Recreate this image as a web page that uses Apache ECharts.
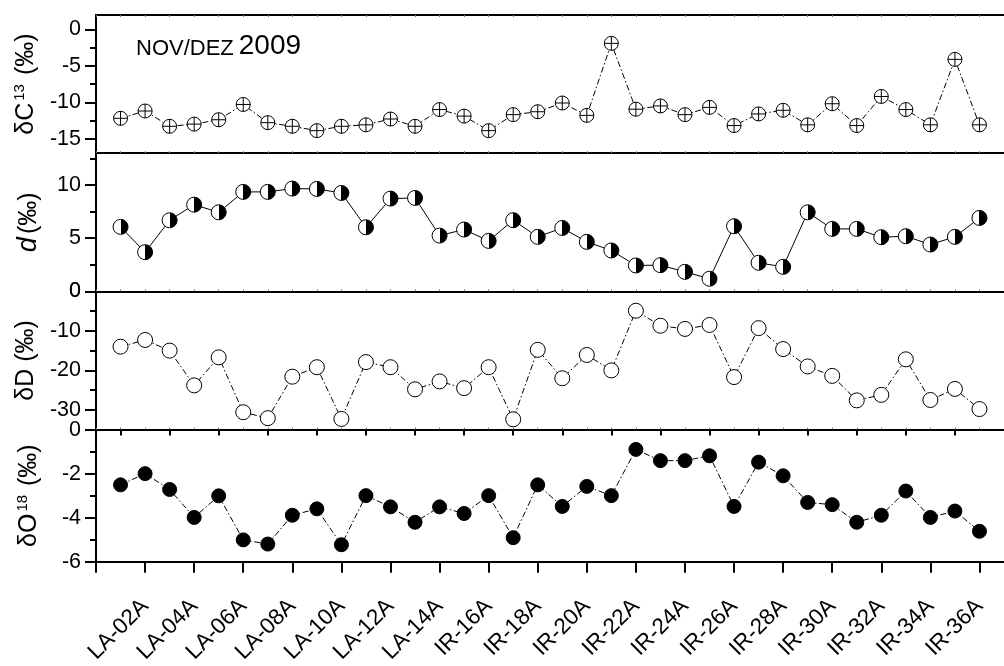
<!DOCTYPE html>
<html>
<head>
<meta charset="utf-8">
<script src="https://cdn.jsdelivr.net/npm/echarts@6/dist/echarts.min.js"></script>
<style>html,body{margin:0;padding:0;background:#fff}#c{width:1004px;height:666px}</style>
</head>
<body>
<div id="c"></div>
<script>
// ---- data ----
const categories = ['LA-01A','LA-02A','LA-03A','LA-04A','LA-05A','LA-06A','LA-07A','LA-08A','LA-09A','LA-10A',
  'LA-11A','LA-12A','LA-13A','LA-14A','LA-15A','IR-16A','IR-17A','IR-18A','IR-19A','IR-20A',
  'IR-21A','IR-22A','IR-23A','IR-24A','IR-25A','IR-26A','IR-27A','IR-28A','IR-29A','IR-30A',
  'IR-31A','IR-32A','IR-33A','IR-34A','IR-35A','IR-36A'];
const d13C = [-12.2,-11.2,-13.3,-13.0,-12.4,-10.3,-12.8,-13.3,-13.9,-13.3,
  -13.1,-12.3,-13.3,-11.0,-11.9,-13.9,-11.7,-11.3,-10.1,-11.8,
  -1.9,-10.95,-10.5,-11.7,-10.7,-13.2,-11.6,-11.1,-13.1,-10.2,
  -13.2,-9.2,-11.0,-13.1,-4.1,-13.1];
const dExcess = [6.07,3.69,6.69,8.16,7.44,9.36,9.36,9.67,9.64,9.26,
  6.03,8.73,8.79,5.25,5.82,4.75,6.7,5.13,5.97,4.66,
  3.85,2.44,2.47,1.84,1.19,6.13,2.69,2.31,7.44,5.88,
  5.88,5.1,5.19,4.41,5.13,6.91];
const dD = [-14.0,-12.3,-15.0,-23.8,-16.7,-30.6,-32.1,-21.6,-19.2,-32.3,
  -17.9,-19.2,-24.8,-22.8,-24.5,-19.2,-32.4,-14.8,-22.0,-16.1,
  -20.0,-4.9,-8.7,-9.5,-8.5,-21.7,-9.3,-14.6,-19.0,-21.4,
  -27.6,-26.2,-17.2,-27.5,-24.7,-29.8];
const d18O = [-2.51,-2.0,-2.72,-3.99,-3.01,-5.01,-5.2,-3.89,-3.6,-5.23,
  -3.0,-3.51,-4.21,-3.51,-3.81,-3.0,-4.91,-2.51,-3.49,-2.58,
  -3.0,-0.9,-1.41,-1.41,-1.19,-3.49,-1.48,-2.1,-3.31,-3.41,
  -4.21,-3.89,-2.79,-3.99,-3.7,-4.62];
const c13Ticks = [0,-5,-10,-15], c13Minor = [-2.5,-7.5,-12.5];
const dTicks = [0,5,10], dMinor = [2.5,7.5,12.5];
const dDTicks = [0,-10,-20,-30], dDMinor = [-5,-15,-25];
const o18Ticks = [0,-2,-4,-6], o18Minor = [-1,-3,-5];
const xMajor = [0,2,4,6,8,10,12,14,16,18,20,22,24,26,28,30,32,34,36];
const xMinor = [1,3,5,7,9,11,13,15,17,19,21,23,25,27,29,31,33,35];
const xAll = [0,1,2,3,4,5,6,7,8,9,10,11,12,13,14,15,16,17,18,19,20,21,22,23,24,25,26,27,28,29,30,31,32,33,34,35,36];
const titleA = 'NOV/DEZ', titleB = '2009';

// ---- chart ----
const FONT = 'Liberation Sans, Arial, Helvetica, sans-serif';
const pts = v => v.map((y, i) => [i + 1, y]);
const tops = [15, 153.2, 291.4, 429.6];
const H = 138.2;
const grids = tops.map(t => ({ left: 96, top: t, width: 917.1, height: H }));
const lineAx = { show: true, onZero: false, lineStyle: { color: '#000', width: 2 } };
function innerX(gi, pos) {
  return { type: 'value', gridIndex: gi, position: pos, min: 0, max: 37,
    axisLine: lineAx, splitLine: { show: false }, axisLabel: { show: false },
    axisTick: { show: true, inside: true, length: 2, customValues: xAll, lineStyle: { color: '#777', width: 1 } } };
}
const xAxes = [
  innerX(0, 'bottom'), innerX(0, 'top'), innerX(1, 'bottom'), innerX(2, 'bottom'),
  { type: 'value', gridIndex: 3, position: 'bottom', min: 0, max: 37,
    axisLine: lineAx, splitLine: { show: false },
    axisTick: { show: true, length: 11, customValues: xMajor, lineStyle: { color: '#000', width: 2 } },
    axisLabel: { show: true, customValues: xMajor.filter(v => v > 0), rotate: 45, margin: 41,
      fontFamily: FONT, fontSize: 22.5, color: '#000',
      formatter: v => categories[Math.round(v) - 1] || '' } },
  { type: 'value', gridIndex: 3, position: 'bottom', min: 0, max: 37,
    axisLine: { show: false }, splitLine: { show: false }, axisLabel: { show: false },
    axisTick: { show: true, length: 6, customValues: xMinor, lineStyle: { color: '#000', width: 2 } } }
];
function mainY(gi, min, max, ticks, name, rich) {
  return { type: 'value', gridIndex: gi, position: 'left', min: min, max: max,
    axisLine: lineAx, splitLine: { show: false },
    axisTick: { show: true, length: 11, customValues: ticks, lineStyle: { color: '#000', width: 2 } },
    axisLabel: { show: true, customValues: ticks, margin: 15, fontFamily: FONT, fontSize: 21.5, color: '#000' },
    name: name, nameLocation: 'middle', nameGap: 54, nameRotate: 90,
    nameTextStyle: { fontFamily: FONT, fontSize: 25, color: '#000', rich: rich } };
}
function minorY(gi, min, max, ticks) {
  return { type: 'value', gridIndex: gi, position: 'left', min: min, max: max,
    axisLine: { show: false }, splitLine: { show: false }, axisLabel: { show: false },
    axisTick: { show: true, length: 6, customValues: ticks, lineStyle: { color: '#000', width: 2 } } };
}
const richBase = {
  m: { fontFamily: FONT, fontSize: 25, color: '#000', verticalAlign: 'bottom' },
  s: { fontFamily: FONT, fontSize: 15, color: '#000', verticalAlign: 'bottom', padding: [0, 2, 12, 2] },
  i: { fontFamily: FONT, fontSize: 27, fontStyle: 'italic', color: '#000', verticalAlign: 'bottom', padding: [0, 3, 0, 0] }
};
const yAxes = [
  mainY(0, -17, 2, c13Ticks, '{m|δC}{s|13}{m| (‰)}', richBase), minorY(0, -17, 2, c13Minor),
  mainY(1, 0, 13, dTicks, '{i|d}{m|(‰)}', richBase), minorY(1, 0, 13, dMinor),
  mainY(2, -35, 0, dDTicks, '{m|δD (‰)}', richBase), minorY(2, -35, 0, dDMinor),
  mainY(3, -6, 0, o18Ticks, '{m|δO}{s|18}{m| (‰)}', richBase), minorY(3, -6, 0, o18Minor)
];
const dashDot = [6, 2.5, 1.5, 2.5];
const base = { type: 'line', animation: false, silent: true, symbolSize: 14,
  emphasis: { disabled: true } };
const series = [
  Object.assign({}, base, { name: 'd13C', xAxisIndex: 0, yAxisIndex: 0, data: pts(d13C),
    symbol: 'path://M10 0A10 10 0 1 1 10 20A10 10 0 1 1 10 0ZM10 0L10 20M0 10L20 10',
    itemStyle: { color: '#fff', borderColor: '#000', borderWidth: 1 },
    lineStyle: { color: '#000', width: 1, type: dashDot } }),
  Object.assign({}, base, { name: 'd', xAxisIndex: 2, yAxisIndex: 2, data: pts(dExcess),
    symbol: 'circle', symbolSize: 15,
    itemStyle: { borderColor: '#000', borderWidth: 1,
      color: { type: 'linear', x: 0, y: 0, x2: 1, y2: 0,
        colorStops: [{ offset: 0, color: '#fff' }, { offset: 0.5, color: '#fff' }, { offset: 0.5, color: '#000' }, { offset: 1, color: '#000' }] } },
    lineStyle: { color: '#000', width: 1, type: 'solid' } }),
  Object.assign({}, base, { name: 'dD', xAxisIndex: 3, yAxisIndex: 4, data: pts(dD),
    symbol: 'circle', symbolSize: 15,
    itemStyle: { color: '#fff', borderColor: '#000', borderWidth: 1 },
    lineStyle: { color: '#000', width: 1, type: dashDot } }),
  Object.assign({}, base, { name: 'd18O', xAxisIndex: 4, yAxisIndex: 6, data: pts(d18O),
    symbol: 'circle', symbolSize: 14,
    itemStyle: { color: '#000', borderColor: '#000', borderWidth: 1 },
    lineStyle: { color: '#000', width: 1, type: dashDot } })
];
const chart = echarts.init(document.getElementById('c'), null, { renderer: 'canvas' });
chart.setOption({
  animation: false,
  backgroundColor: '#fff',
  title: { text: '{a|' + titleA + '} {b|' + titleB + '}', left: 131, top: 27,
    textStyle: { fontWeight: 'normal', rich: {
      a: { fontFamily: FONT, fontSize: 22, fontWeight: 'normal', color: '#000', verticalAlign: 'bottom' },
      b: { fontFamily: FONT, fontSize: 28, fontWeight: 'normal', color: '#000', verticalAlign: 'bottom' } } } },
  grid: grids, xAxis: xAxes, yAxis: yAxes, series: series
});
</script>
</body>
</html>
